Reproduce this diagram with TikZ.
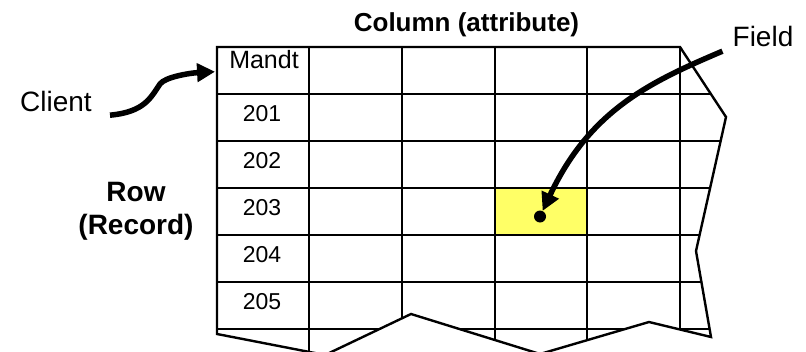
\documentclass[tikz,border=0pt]{standalone}
\usepackage{fontspec}
\setmainfont{Liberation Sans}
\usepackage{xcolor}
\usetikzlibrary{arrows.meta}
\definecolor{fieldyellow}{RGB}{255,255,102}
\tikzset{
  gridline/.style={line width=2.4pt},
  bigtext/.style={anchor=base,inner sep=0,font=\fontsize{28}{33}\selectfont},
  celltext/.style={anchor=base,inner sep=0,font=\fontsize{23}{27}\selectfont},
  fatarrow/.style={line width=5.5pt,-{Triangle[length=18pt,width=18pt]}},
}

\begin{document}
\begin{tikzpicture}[x=1pt,y=-1pt]
\useasboundingbox (0,0) rectangle (806,351);
\begin{scope}
\clip (217,47) -- (680,47) -- (726,117) -- (696,251) -- (711,337) -- (649,322) -- (540,354) -- (411,314) -- (325,355) -- (217,334) -- cycle;
\fill[fieldyellow] (495,188) rectangle (587,235);
\draw[gridline] (217,94) -- (760,94);
\draw[gridline] (217,141) -- (760,141);
\draw[gridline] (217,188) -- (760,188);
\draw[gridline] (217,235) -- (760,235);
\draw[gridline] (217,282) -- (760,282);
\draw[gridline] (217,329) -- (760,329);
\draw[gridline] (309,47) -- (309,360);
\draw[gridline] (402,47) -- (402,360);
\draw[gridline] (495,47) -- (495,360);
\draw[gridline] (587,47) -- (587,360);
\draw[gridline] (680,47) -- (680,360);
\end{scope}
\draw[gridline,line join=miter] (217,47) -- (680,47) -- (726,117) -- (696,251) -- (711,337) -- (649,322) -- (540,354) -- (411,314) -- (325,355) -- (217,334) -- cycle;
\node[bigtext,font=\fontsize{26}{30}\selectfont\bfseries] (column) at (466.5,31.7) {Column (attribute)};
\node[bigtext] (client) at (56,111.7) {Client};
\node[bigtext] (field) at (763,46.7) {Field};
\node[anchor=north,inner sep=0,align=center,font=\fontsize{28}{33}\selectfont\bfseries] (row) at (136,181.7) {Row\\(Record)};
\node[celltext,font=\fontsize{25}{29}\selectfont] (mandt) at (264,68.3) {Mandt};
\node[celltext] (c201) at (262,121) {201};
\node[celltext] (c202) at (262,168) {202};
\node[celltext] (c203) at (262,215) {203};
\node[celltext] (c204) at (262,262) {204};
\node[celltext] (c205) at (262,309) {205};
\node[circle,fill,inner sep=0,minimum size=12pt] (dot) at (540,216.5) {};
\draw[fatarrow] ([shift={(18,3)}]client.south east) .. controls (145,112) and (151,97) .. (160,84) .. controls (165,77) and (190,73) .. ([shift={(-14,3.4)}]mandt.base west);
\draw[fatarrow] ([shift={(-10,4)}]field.south west) .. controls (650,82) and (590,110) .. (dot);
\end{tikzpicture}
\end{document}
